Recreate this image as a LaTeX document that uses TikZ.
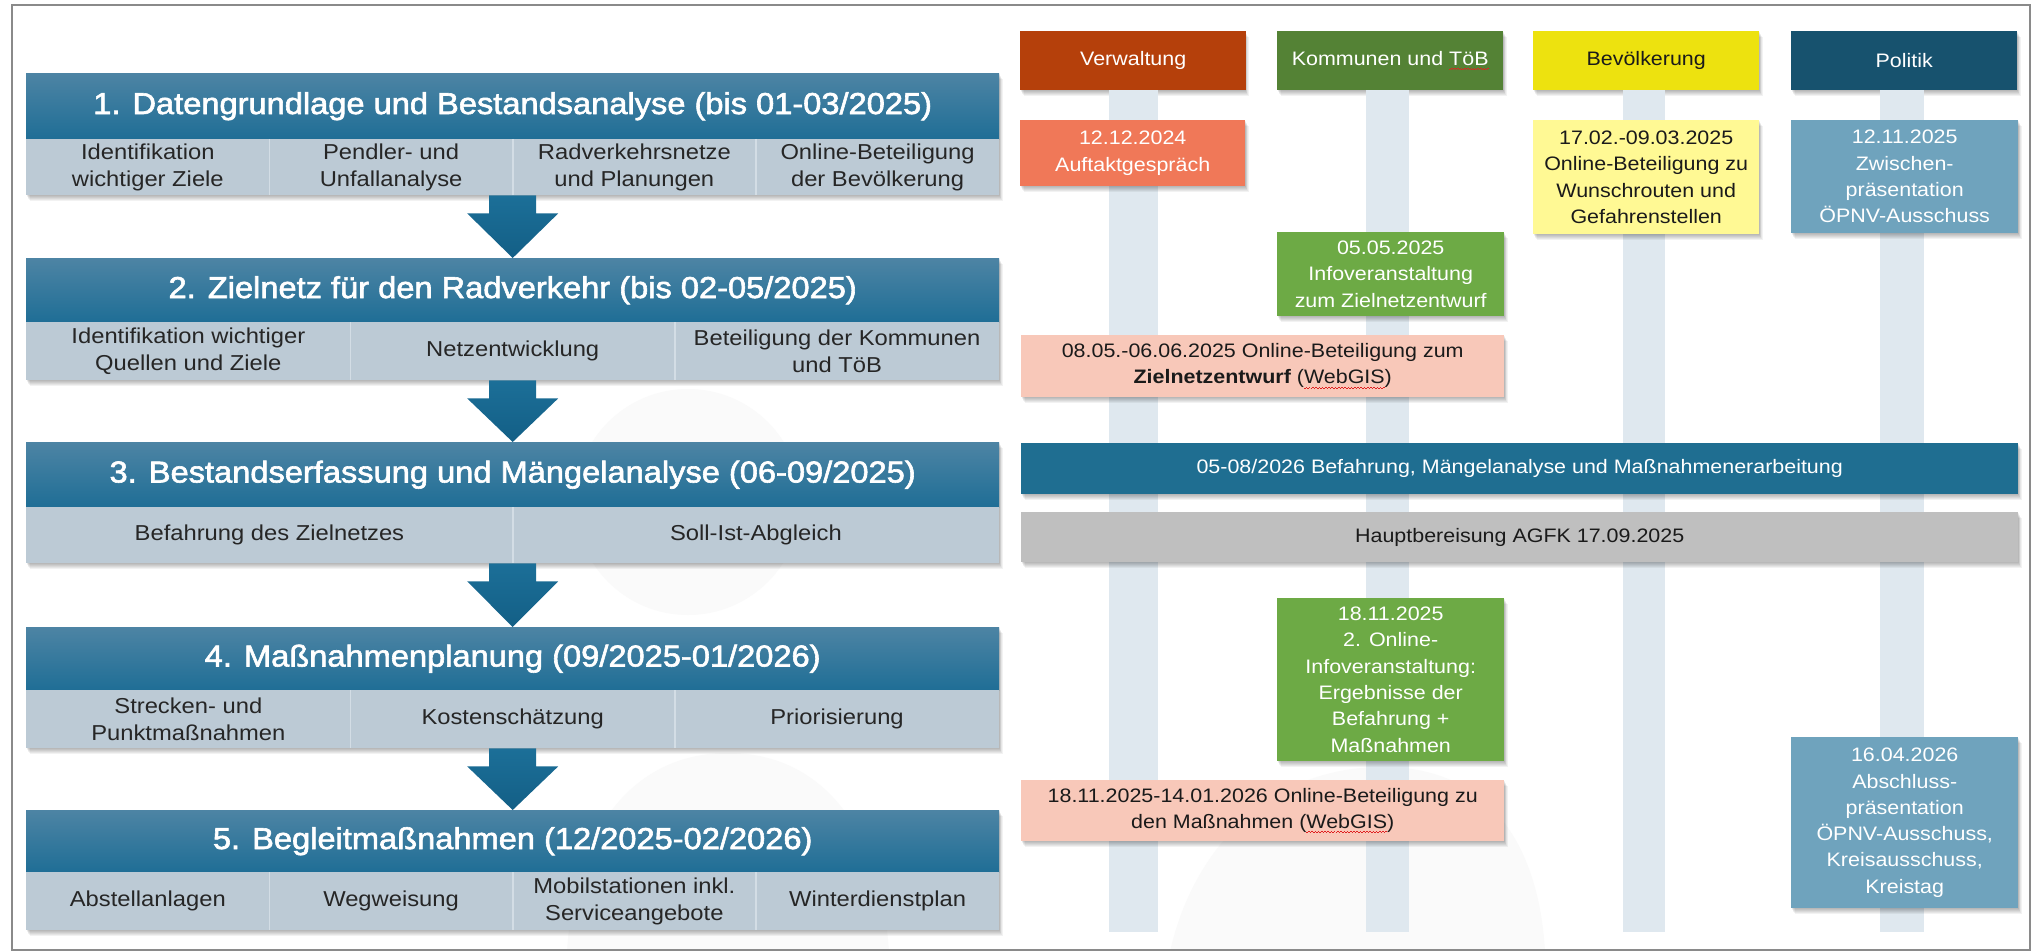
\documentclass[tikz,border=0pt]{standalone}
\usepackage{fontspec}
\setmainfont{Liberation Sans}[FakeStretch=1.1]
\newfontfamily\titlefont{Liberation Sans}[FakeStretch=1.08, FakeBold=2]
\usetikzlibrary{calc}
\definecolor{framec}{HTML}{8A8A8A}
\definecolor{bgfaint}{HTML}{FAFAFA}
\definecolor{hdrtop}{HTML}{4D84A4}
\definecolor{hdrbot}{HTML}{1F6E96}
\definecolor{subc}{HTML}{BCCAD5}
\definecolor{sepc}{HTML}{D3DDE5}
\definecolor{arrtop}{HTML}{1C6F98}
\definecolor{arrbot}{HTML}{135F86}
\definecolor{subtxt}{HTML}{262626}
\definecolor{verwc}{HTML}{B5400B}
\definecolor{kommc}{HTML}{548235}
\definecolor{bevc}{HTML}{EDE20F}
\definecolor{polc}{HTML}{17526E}
\definecolor{auftc}{HTML}{F07858}
\definecolor{bevev}{HTML}{FFF994}
\definecolor{polev}{HTML}{6FA3BD}
\definecolor{greenev}{HTML}{6DAA45}
\definecolor{pinkev}{HTML}{F8C8B9}
\definecolor{barblue}{HTML}{1F6E91}
\definecolor{bargray}{HTML}{BFBFBF}
\definecolor{lanec}{HTML}{DFE8EF}
\definecolor{squigc}{HTML}{E02020}
\definecolor{darktxt}{HTML}{1A1A1A}
\newcommand\redwave[1]{\setbox0\hbox{#1}\rlap{\hbox to \wd0{\color{squigc}\xleaders\hbox{\rule[-5pt]{1.6pt}{1pt}\rule[-3.8pt]{1.6pt}{1pt}}\hfill}}\box0}
\newcommand\softshadow[4]{%
  \foreach \ii in {1,...,6}{%
    \fill[black,opacity=0.05] ({#1+0.6*\ii},{#2+\ii}) rectangle ({#3+0.6*\ii},{#4+\ii});}}
\tikzset{
  hdr/.style={anchor=north west, inner sep=0pt, minimum width=973pt, top color=hdrtop, bottom color=hdrbot, text=white, font=\titlefont\fontsize{30.2}{36}\selectfont},
  subcell/.style={anchor=north west, inner sep=0pt, fill=subc, text=subtxt, align=center, font=\fontsize{21.6}{26.7}\selectfont},
  sepline/.style={sepc, line width=1.5pt},
  blockarrow/.style={top color=arrtop, bottom color=arrbot},
  lanehead/.style={anchor=north west, inner sep=0pt, minimum width=226pt, minimum height=59pt, font=\fontsize{19.5}{26.3}\selectfont},
  ev/.style={anchor=north west, inner sep=0pt, align=center, font=\fontsize{19.5}{26.3}\selectfont},
  lane/.style={lanec, line width=#1},
  lane/.default=46pt
}
\begin{document}
\begin{tikzpicture}[x=1pt,y=-1pt]
\useasboundingbox (0,0) rectangle (2033,952);
\fill[white] (0,0) rectangle (2033,952);
% faint background watermark shapes
\begin{scope}
\clip (12,5) rectangle (2030,950);
\fill[bgfaint] (688,502) circle (113pt);
\fill[bgfaint] (567,952) .. controls (575,820) and (640,753) .. (728,753) .. controls (816,753) and (880,820) .. (889,952) -- cycle;
\fill[bgfaint] (1170,952) .. controls (1190,860) and (1260,767) .. (1383,767) .. controls (1500,767) and (1540,860) .. (1545,952) -- cycle;
\end{scope}
\draw[framec, line width=2pt] (12,5) rectangle (2030,950);

% ---------- Box 1
\softshadow{26}{73}{999}{195}
\node[hdr, minimum height=66pt] (h1) at (26,73) {1. Datengrundlage und Bestandsanalyse (bis 01-03/2025)};
\node[subcell, minimum width=243.25pt, minimum height=56pt] (s11) at (26,139) {Identifikation\\wichtiger Ziele};
\node[subcell, minimum width=243.25pt, minimum height=56pt] (s12) at (269.25,139) {Pendler- und\\Unfallanalyse};
\node[subcell, minimum width=243.25pt, minimum height=56pt] (s13) at (512.5,139) {Radverkehrsnetze\\und Planungen};
\node[subcell, minimum width=243.25pt, minimum height=56pt] (s14) at (755.75,139) {Online-Beteiligung\\der Bevölkerung};
\draw[sepline] (s11.north east) -- (s11.south east);
\draw[sepline] (s12.north east) -- (s12.south east);
\draw[sepline] (s13.north east) -- (s13.south east);

% ---------- Box 2
\softshadow{26}{258}{999}{380}
\node[hdr, minimum height=64pt] (h2) at (26,258) {2. Zielnetz für den Radverkehr (bis 02-05/2025)};
\node[subcell, minimum width=324.33pt, minimum height=58pt] (s21) at (26,322) {Identifikation wichtiger\\Quellen und Ziele};
\node[subcell, minimum width=324.33pt, minimum height=58pt] (s22) at (350.33,322) {Netzentwicklung};
\node[subcell, minimum width=324.34pt, minimum height=58pt] (s23) at (674.66,322) {Beteiligung der Kommunen\\und TöB};
\draw[sepline] (s21.north east) -- (s21.south east);
\draw[sepline] (s22.north east) -- (s22.south east);

% ---------- Box 3
\softshadow{26}{442}{999}{563}
\node[hdr, minimum height=65pt] (h3) at (26,442) {3. Bestandserfassung und Mängelanalyse (06-09/2025)};
\node[subcell, minimum width=486.5pt, minimum height=56pt] (s31) at (26,507) {Befahrung des Zielnetzes};
\node[subcell, minimum width=486.5pt, minimum height=56pt] (s32) at (512.5,507) {Soll-Ist-Abgleich};
\draw[sepline] (s31.north east) -- (s31.south east);

% ---------- Box 4
\softshadow{26}{627}{999}{748}
\node[hdr, minimum height=63pt] (h4) at (26,627) {4. Maßnahmenplanung (09/2025-01/2026)};
\node[subcell, minimum width=324.33pt, minimum height=58pt] (s41) at (26,690) {Strecken- und\\Punktmaßnahmen};
\node[subcell, minimum width=324.33pt, minimum height=58pt] (s42) at (350.33,690) {Kostenschätzung};
\node[subcell, minimum width=324.34pt, minimum height=58pt] (s43) at (674.66,690) {Priorisierung};
\draw[sepline] (s41.north east) -- (s41.south east);
\draw[sepline] (s42.north east) -- (s42.south east);

% ---------- Box 5
\softshadow{26}{810}{999}{930}
\node[hdr, minimum height=62pt] (h5) at (26,810) {5. Begleitmaßnahmen (12/2025-02/2026)};
\node[subcell, minimum width=243.25pt, minimum height=58pt] (s51) at (26,872) {Abstellanlagen};
\node[subcell, minimum width=243.25pt, minimum height=58pt] (s52) at (269.25,872) {Wegweisung};
\node[subcell, minimum width=243.25pt, minimum height=58pt] (s53) at (512.5,872) {Mobilstationen inkl.\\Serviceangebote};
\node[subcell, minimum width=243.25pt, minimum height=58pt] (s54) at (755.75,872) {Winterdienstplan};
\draw[sepline] (s51.north east) -- (s51.south east);
\draw[sepline] (s52.north east) -- (s52.south east);
\draw[sepline] (s53.north east) -- (s53.south east);

% ---------- Block arrows
\coordinate (t1) at (h2.north |- s11.south);
\coordinate (t2) at (h3.north |- s21.south);
\coordinate (t3) at (h4.north |- s31.south);
\coordinate (t4) at (h5.north |- s41.south);
\foreach \a/\b in {t1/h2, t2/h3, t3/h4, t4/h5}{
  \shade[blockarrow] ([xshift=-23.5pt]\a) -- ([xshift=23.5pt]\a) -- ([xshift=23.5pt,yshift=-18pt]\a)
    -- ([xshift=45.5pt,yshift=-18pt]\a) -- (\b.north) -- ([xshift=-45.5pt,yshift=-18pt]\a)
    -- ([xshift=-23.5pt,yshift=-18pt]\a) -- cycle;
}

% ---------- Right side: lane headers
\softshadow{1020}{31}{1245}{90}
\node[lanehead, fill=verwc, text=white] (vh) at (1020,31) {Verwaltung};
\softshadow{1277}{31}{1503}{90}
\node[lanehead, fill=kommc, text=white] (kh) at (1277,31) {Kommunen und \redwave{TöB}};
\softshadow{1533}{31}{1759}{90}
\node[lanehead, fill=bevc, text=darktxt] (bh) at (1533,31) {Bevölkerung};
\softshadow{1791}{31}{2017}{90}
\node[lanehead, fill=polc, text=white] (ph) at (1791,31) {Politik};

\coordinate (lanebot) at (0,932);
\draw[lane=49pt] (vh.south) -- (vh.south |- lanebot);
\draw[lane=43pt] ([xshift=-3pt]kh.south) -- ([xshift=-3pt]kh.south |- lanebot);
\draw[lane=42pt] ([xshift=-2pt]bh.south) -- ([xshift=-2pt]bh.south |- lanebot);
\draw[lane=44pt] ([xshift=-2pt]ph.south) -- ([xshift=-2pt]ph.south |- lanebot);

% ---------- Events
\softshadow{1020}{120}{1245}{186}
\node[ev, fill=auftc, text=white, minimum width=225pt, minimum height=66pt] (e1) at (1020,120) {12.12.2024\\Auftaktgespräch};
\softshadow{1533}{120}{1759}{234}
\node[ev, fill=bevev, text=darktxt, minimum width=226pt, minimum height=114pt] (e2) at (1533,120) {17.02.-09.03.2025\\Online-Beteiligung zu\\Wunschrouten und\\Gefahrenstellen};
\softshadow{1791}{120}{2018}{233}
\node[ev, fill=polev, text=white, minimum width=227pt, minimum height=113pt] (e3) at (1791,120) {12.11.2025\\Zwischen-\\präsentation\\ÖPNV-Ausschuss};
\softshadow{1277}{232}{1504}{316}
\node[ev, fill=greenev, text=white, minimum width=227pt, minimum height=84pt] (e4) at (1277,232) {05.05.2025\\Infoveranstaltung\\zum Zielnetzentwurf};
\softshadow{1021}{335}{1504}{397}
\node[ev, fill=pinkev, text=darktxt, minimum width=483pt, minimum height=62pt] (e5) at (1021,335) {08.05.-06.06.2025 Online-Beteiligung zum\\\textbf{Zielnetzentwurf} (\redwave{WebGIS})};
\softshadow{1021}{443}{2018}{494}
\node[ev, fill=barblue, text=white, minimum width=997pt, minimum height=51pt] (e6) at (1021,443) {05-08/2026 Befahrung, Mängelanalyse und Maßnahmenerarbeitung};
\softshadow{1021}{512}{2018}{562}
\node[ev, fill=bargray, text=darktxt, minimum width=997pt, minimum height=50pt] (e7) at (1021,512) {Hauptbereisung AGFK 17.09.2025};
\softshadow{1277}{598}{1504}{761}
\node[ev, fill=greenev, text=white, minimum width=227pt, minimum height=163pt] (e8) at (1277,598) {18.11.2025\\2. Online-\\Infoveranstaltung:\\Ergebnisse der\\Befahrung +\\Maßnahmen};
\softshadow{1021}{780}{1504}{841}
\node[ev, fill=pinkev, text=darktxt, minimum width=483pt, minimum height=61pt] (e9) at (1021,780) {18.11.2025-14.01.2026 Online-Beteiligung zu\\den Maßnahmen (\redwave{WebGIS})};
\softshadow{1791}{737}{2018}{908}
\node[ev, fill=polev, text=white, minimum width=227pt, minimum height=171pt] (e10) at (1791,737) {16.04.2026\\Abschluss-\\präsentation\\ÖPNV-Ausschuss,\\Kreisausschuss,\\Kreistag};
\end{tikzpicture}
\end{document}
